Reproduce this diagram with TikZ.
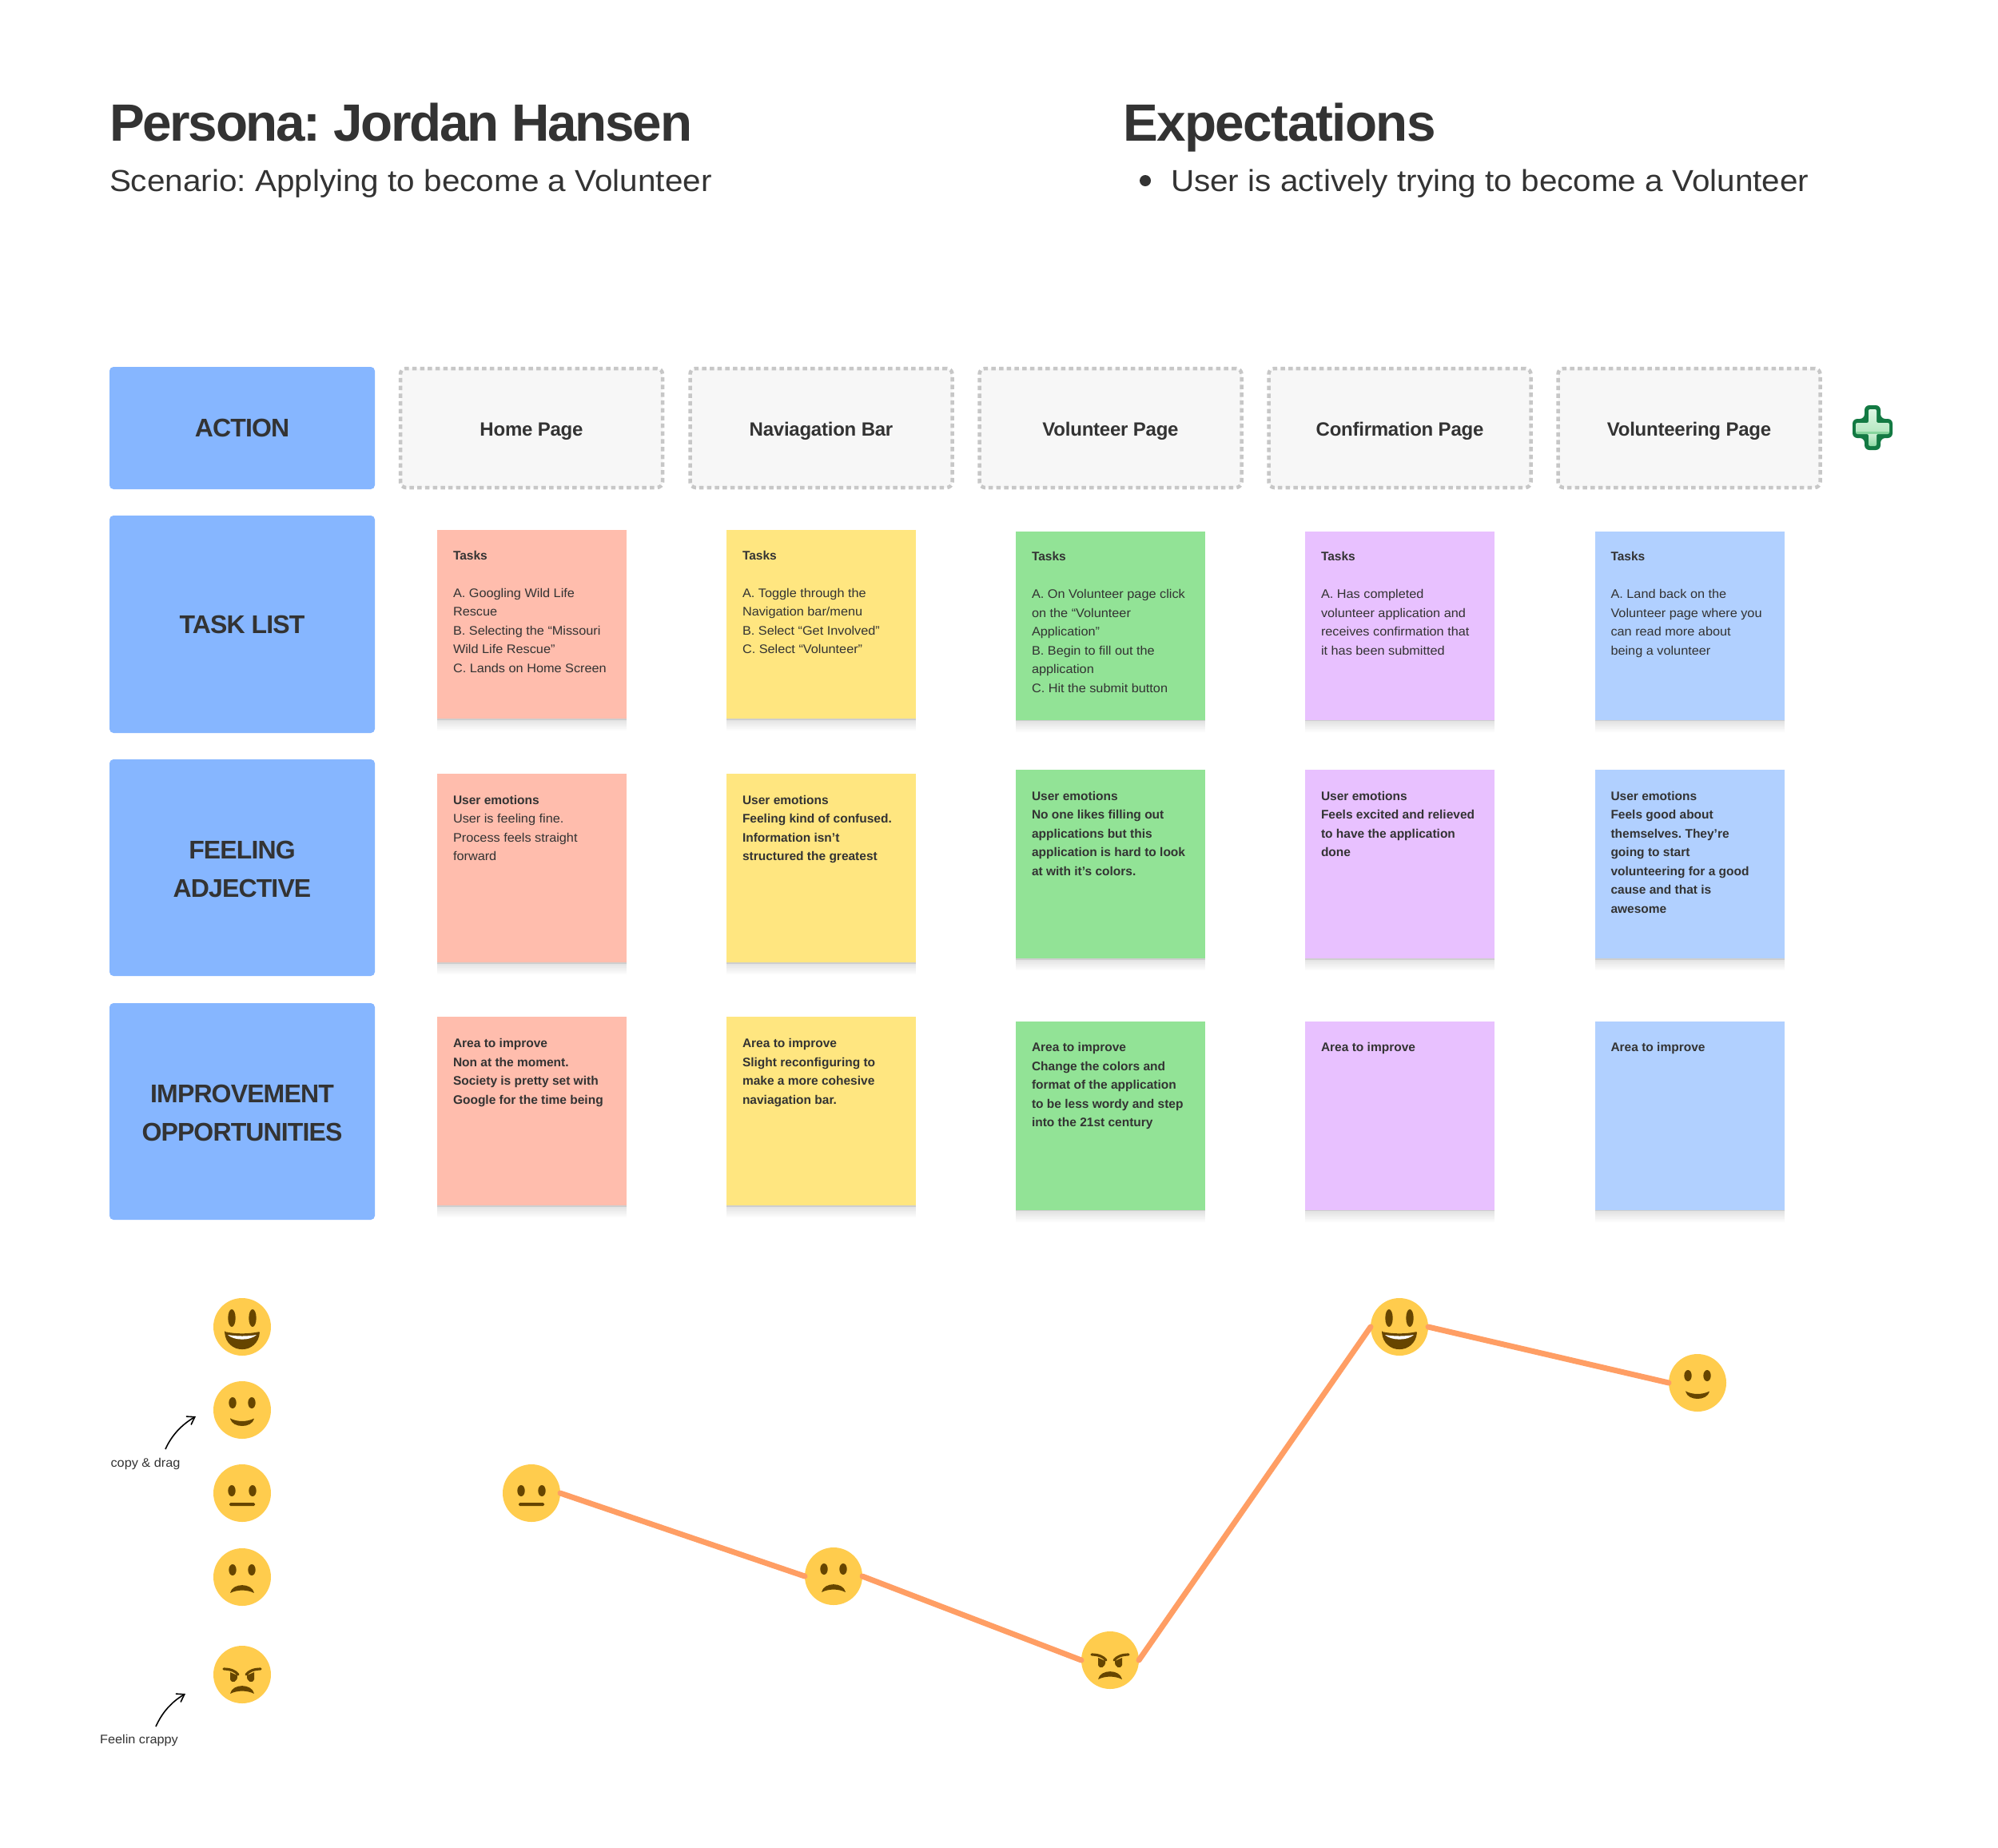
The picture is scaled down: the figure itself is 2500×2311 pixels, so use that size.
\documentclass[tikz,border=0pt]{standalone}
\usepackage{fontspec}
\setmainfont[FakeStretch=1.05,BoldFeatures={FakeStretch=1.0}]{Liberation Sans}
\newfontfamily\titlef[LetterSpace=-2.3]{Liberation Sans}
\newfontfamily\titlenarrow[LetterSpace=-3.5]{Liberation Sans}
\newfontfamily\subf[FakeStretch=1.065]{Liberation Sans}
\newfontfamily\labelf[LetterSpace=-2.7]{Liberation Sans}
\newfontfamily\headf[LetterSpace=-1]{Liberation Sans}
\AtBeginDocument{\frenchspacing}
\usetikzlibrary{shadows,arrows.meta}
\definecolor{ink}{HTML}{333333}
\definecolor{lblue}{HTML}{86B6FF}
\definecolor{sred}{HTML}{FFBDAD}
\definecolor{syel}{HTML}{FFE680}
\definecolor{sgrn}{HTML}{92E396}
\definecolor{spur}{HTML}{E8C1FF}
\definecolor{sblu}{HTML}{B1D0FF}
\definecolor{facey}{HTML}{FFCC4D}
\definecolor{faced}{HTML}{664500}
\definecolor{pline}{HTML}{FF9E64}
\definecolor{pgreen}{HTML}{137A43}
\definecolor{plusa}{HTML}{E0F6E5}
\definecolor{plusb}{HTML}{B6E8C2}
\definecolor{plusc}{HTML}{CBF0D4}
\definecolor{plusd}{HTML}{86D69D}
\tikzset{
  x=1pt,y=-1pt,
  every node/.style={text=ink,inner sep=0pt,outer sep=0pt},
  titlenode/.style={anchor=base west,font=\fontsize{65.6}{66}\titlef\bfseries},
  subnode/.style={anchor=base west,font=\fontsize{38}{40}\subf},
  labelbox/.style={fill=lblue,rounded corners=5pt,minimum width=332pt,align=center,font=\fontsize{32}{47.5}\labelf\bfseries},
  dashbox/.style={fill=black!3,draw=black!22,line width=4.5pt,dash pattern=on 5.5pt off 4.2pt,rounded corners=7pt,minimum width=328pt,minimum height=149pt,text height=19pt,text depth=0pt,font=\fontsize{24}{30}\headf\bfseries},
  softlayer/.style={drop shadow={shadow xshift=0pt,shadow yshift=-#1pt,opacity=.014,fill=black}},
  stickybox/.style={minimum width=237pt,minimum height=236pt,
    softlayer=15,softlayer=13,softlayer=11,softlayer=9,softlayer=7,softlayer=5,softlayer=3,
    drop shadow={shadow xshift=0pt,shadow yshift=-1.5pt,opacity=.09,fill=black}},
  stxt/.style={anchor=north west,align=left,font=\fontsize{15.5}{23.5}\selectfont},
  stbold/.style={stxt,font=\fontsize{15.5}{23.5}\selectfont\bfseries},
  facec/.style={circle,fill=facey,minimum size=72pt},
  pathline/.style={draw=pline,line width=7pt,line cap=round},
  sketcharrow/.style={draw=black,line width=1.6pt,-{Straight Barb[length=9pt,width=12pt]}},
  grin/.pic={
    \fill[faced] (-13,-11) ellipse[x radius=4.7,y radius=11];
    \fill[faced] (13,-11) ellipse[x radius=4.7,y radius=11];
    \fill[faced,rounded corners=1pt] (-22,6) .. controls (-8,9) and (8,9) .. (22,6) .. controls (21,21) and (10,28) .. (0,28) .. controls (-10,28) and (-21,21) .. (-22,6) -- cycle;
    \fill[white] (-18,10) .. controls (-6,12) and (6,12) .. (18,10) .. controls (10,17.5) and (-10,17.5) .. (-18,10) -- cycle;},
  smile/.pic={
    \fill[faced] (-12,-9) ellipse[x radius=4.7,y radius=7];
    \fill[faced] (12,-9) ellipse[x radius=4.7,y radius=7];
    \fill[faced,rounded corners=.5pt] (-15,10.5) .. controls (-6,15) and (6,15) .. (15,10.5) .. controls (12,23) and (-12,23) .. (-15,10.5) -- cycle;},
  neutral/.pic={
    \fill[faced] (-13,-3) ellipse[x radius=4.7,y radius=7];
    \fill[faced] (13,-3) ellipse[x radius=4.7,y radius=7];
    \fill[faced,rounded corners=1.5pt] (-16,12) rectangle (16,16);},
  sad/.pic={
    \fill[faced] (-12,-9) ellipse[x radius=4.7,y radius=7];
    \fill[faced] (12,-9) ellipse[x radius=4.7,y radius=7];
    \fill[faced,rounded corners=.5pt] (-15,20) .. controls (-6,15.5) and (6,15.5) .. (15,20) .. controls (12,7) and (-12,7) .. (-15,20) -- cycle;},
  angry/.pic={
    \draw[faced,line width=3.2pt,line cap=round] (-23,-7) .. controls (-14,-7) and (-8,-4) .. (-5,0);
    \draw[faced,line width=3.2pt,line cap=round] (23,-7) .. controls (14,-7) and (8,-4) .. (5,0);
    \fill[faced] (-15,-3) -- (-6,1) .. controls (-5,9) and (-13,12) .. (-15,6) -- cycle;
    \fill[faced] (15,-3) -- (6,1) .. controls (5,9) and (13,12) .. (15,6) -- cycle;
    \fill[faced,rounded corners=.5pt] (-15,24) .. controls (-6,19.5) and (6,19.5) .. (15,24) .. controls (12,11) and (-12,11) .. (-15,24) -- cycle;},
}
\begin{document}
\begin{tikzpicture}
\useasboundingbox[fill=white] (0,0) rectangle (2500,2311);
% titles
\node[titlenode,font=\fontsize{65.6}{66}\titlenarrow\bfseries] (title) at (137,176) {Persona: Jordan Hansen};
\node[subnode] (scen) at (137,239) {Scenario: Applying to become a Volunteer};
\node[titlenode] (expt) at (1405,176) {Expectations};
\fill[ink] (1433,226) circle[radius=7];
\node[subnode] (expi) at (1465,239) {User is actively trying to become a Volunteer};
% left labels
\node[labelbox,minimum height=153pt] (laction) at (303,535.5) {ACTION};
\node[labelbox,minimum height=272pt] (ltask) at (303,781) {TASK LIST};
\node[labelbox,minimum height=271pt] (lfeel) at (303,1085.5) {\rule{0pt}{26.5pt}FEELING\\ADJECTIVE};
\node[labelbox,minimum height=271pt] (limpr) at (303,1390.5) {\rule{0pt}{26.5pt}IMPROVEMENT\\OPPORTUNITIES};
% headers
\node[dashbox] (h1) at (665,535.5) {Home Page};
\node[dashbox] (h2) at (1027.5,535.5) {Naviagation Bar};
\node[dashbox] (h3) at (1389.5,535.5) {Volunteer Page};
\node[dashbox] (h4) at (1751.5,535.5) {Confirmation Page};
\node[dashbox] (h5) at (2113.5,535.5) {Volunteering Page};
% plus icon
\fill[pgreen,rounded corners=6pt] (2333,507) -- (2353,507) -- (2353,524) -- (2368,524) -- (2368,548) -- (2353,548) -- (2353,563) -- (2333,563) -- (2333,548) -- (2318,548) -- (2318,524) -- (2333,524) -- cycle;
\begin{scope}
\clip[rounded corners=2pt] (2338,512) -- (2348,512) -- (2348,529) -- (2364,529) -- (2364,543) -- (2348,543) -- (2348,558) -- (2338,558) -- (2338,543) -- (2322,543) -- (2322,529) -- (2338,529) -- cycle;
\shade[top color=plusa,bottom color=plusb] (2320,510) rectangle (2366,540);
\fill[plusd] (2320,540) rectangle (2366,543);
\shade[top color=plusc,bottom color=plusd] (2320,543) rectangle (2366,560);
\end{scope}
% task row
\node[stickybox,fill=sred] (s11) at (665.5,781) {};
\node[stxt] (t11) at (567,684) {\strut\textbf{Tasks}\\[23.5pt]\strut A. Googling Wild Life\\Rescue\\B. Selecting the “Missouri\\Wild Life Rescue”\\C. Lands on Home Screen};
\node[stickybox,fill=syel] (s12) at (1027.5,781) {};
\node[stxt] (t12) at (929,684) {\strut\textbf{Tasks}\\[23.5pt]\strut A. Toggle through the\\Navigation bar/menu\\B. Select “Get Involved”\\C. Select “Volunteer”};
\node[stickybox,fill=sgrn] (s13) at (1389.5,782.5) {};
\node[stxt] (t13) at (1291,685.5) {\strut\textbf{Tasks}\\[23.5pt]\strut A. On Volunteer page click\\on the “Volunteer\\Application”\\B. Begin to fill out the\\application\\C. Hit the submit button};
\node[stickybox,fill=spur] (s14) at (1751.5,782.5) {};
\node[stxt] (t14) at (1653,685.5) {\strut\textbf{Tasks}\\[23.5pt]\strut A. Has completed\\volunteer application and\\receives confirmation that\\it has been submitted};
\node[stickybox,fill=sblu] (s15) at (2114,782.5) {};
\node[stxt] (t15) at (2015.5,685.5) {\strut\textbf{Tasks}\\[23.5pt]\strut A. Land back on the\\Volunteer page where you\\can read more about\\being a volunteer};
% feeling row
\node[stickybox,fill=sred] (s21) at (665.5,1086) {};
\node[stxt] (t21) at (567,990) {\strut\textbf{User emotions}\\User is feeling fine.\\Process feels straight\\forward};
\node[stickybox,fill=syel] (s22) at (1027.5,1086) {};
\node[stbold] (t22) at (929,990) {\strut User emotions\\Feeling kind of confused.\\Information isn’t\\structured the greatest};
\node[stickybox,fill=sgrn] (s23) at (1389.5,1081) {};
\node[stbold] (t23) at (1291,985) {\strut User emotions\\No one likes filling out\\applications but this\\application is hard to look\\at with it’s colors.};
\node[stickybox,fill=spur] (s24) at (1751.5,1081) {};
\node[stbold] (t24) at (1653,985) {\strut User emotions\\Feels excited and relieved\\to have the application\\done};
\node[stickybox,fill=sblu] (s25) at (2114,1081) {};
\node[stbold] (t25) at (2015.5,985) {\strut User emotions\\Feels good about\\themselves. They’re\\going to start\\volunteering for a good\\cause and that is\\awesome};
% improve row
\node[stickybox,fill=sred] (s31) at (665.5,1390) {};
\node[stbold] (t31) at (567,1294.5) {\strut Area to improve\\Non at the moment.\\Society is pretty set with\\Google for the time being};
\node[stickybox,fill=syel] (s32) at (1027.5,1390) {};
\node[stbold] (t32) at (929,1294.5) {\strut Area to improve\\Slight reconfiguring to\\make a more cohesive\\naviagation bar.};
\node[stickybox,fill=sgrn] (s33) at (1389.5,1395.5) {};
\node[stbold] (t33) at (1291,1299.5) {\strut Area to improve\\Change the colors and\\format of the application\\to be less wordy and step\\into the 21st century};
\node[stickybox,fill=spur] (s34) at (1751.5,1395.5) {};
\node[stbold] (t34) at (1653,1299.5) {\strut Area to improve};
\node[stickybox,fill=sblu] (s35) at (2114,1395.5) {};
\node[stbold] (t35) at (2015.5,1299.5) {\strut Area to improve};
% legend faces
\node[facec] (k1) at (303,1660) {}; \pic at (k1) {grin};
\node[facec] (k2) at (303,1764) {}; \pic at (k2) {smile};
\node[facec] (k3) at (303,1868) {}; \pic at (k3) {neutral};
\node[facec] (k4) at (303,1973) {}; \pic at (k4) {sad};
\node[facec] (k5) at (303,2095) {}; \pic at (k5) {angry};
% annotations
\node[font=\fontsize{15.5}{18}\selectfont] (copy) at (182,1831) {copy \& drag};
\node[font=\fontsize{15.5}{18}\selectfont] (crap) at (174,2177.5) {Feelin crappy};
\coordinate (copyend) at (245,1772);
\coordinate (crapend) at (232,2119);
\coordinate (copystart) at (207,1813);
\coordinate (crapstart) at (195,2160);
\draw[sketcharrow] (copystart) .. controls (215,1795) and (228,1782) .. (copyend);
\draw[sketcharrow] (crapstart) .. controls (203,2142) and (215,2129) .. (crapend);
% journey
\node[facec] (f1) at (665,1868) {};
\node[facec] (f2) at (1043,1972) {};
\node[facec] (f3) at (1389,2077) {};
\node[facec] (f4) at (1751,1660) {};
\node[facec] (f5) at (2124,1730) {};
\draw[pathline] (f1.east) -- (f2.west);
\draw[pathline] (f2.east) -- (f3.west);
\draw[pathline] (f3.east) -- (f4.west);
\draw[pathline] (f4.east) -- (f5.west);
\pic at (f1) {neutral};
\pic at (f2) {sad};
\pic at (f3) {angry};
\pic at (f4) {grin};
\pic at (f5) {smile};
\end{tikzpicture}
\end{document}
